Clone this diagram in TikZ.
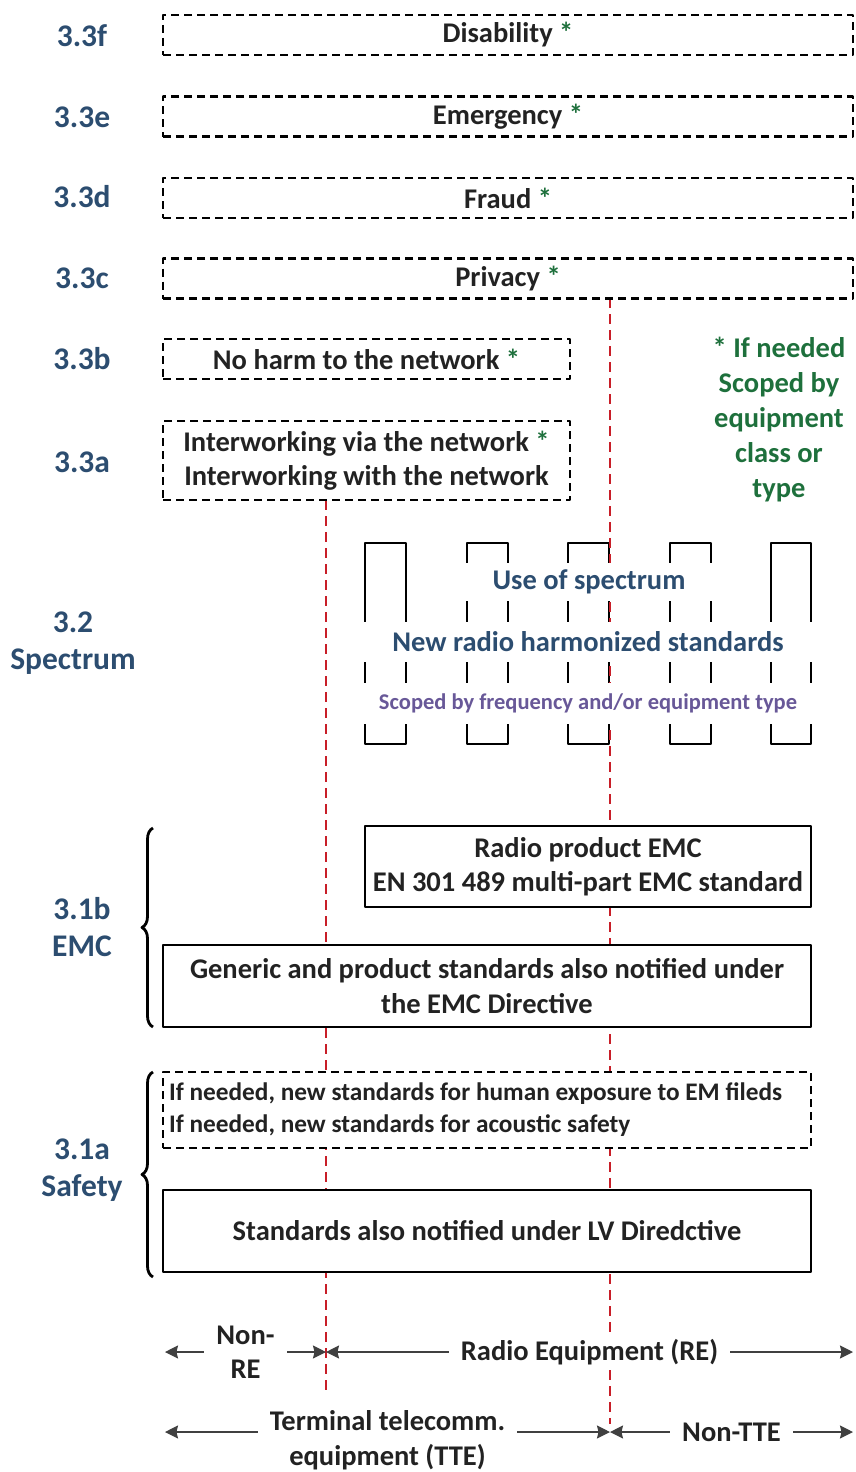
\documentclass[tikz,border=0pt]{standalone}
\usepackage{fontspec}
\setmainfont{Carlito}
\usetikzlibrary{arrows.meta,decorations.pathreplacing}
\definecolor{secblue}{RGB}{44,77,112}
\definecolor{notegreen}{RGB}{30,112,60}
\definecolor{scopepurple}{RGB}{104,88,152}
\definecolor{splitred}{RGB}{200,30,40}
\definecolor{arrowgray}{RGB}{64,64,64}
\definecolor{inktext}{RGB}{34,34,34}
\newcommand{\needed}{\textcolor{notegreen}{*}}
\tikzset{
	sec/.style={text=secblue, align=center, font=\fontsize{31.5}{37}\selectfont\bfseries},
	reqbox/.style={draw, line width=2.2pt, fill=white, inner sep=0pt, align=center, text=inktext},
	optbox/.style={reqbox, dash pattern=on 8pt off 5pt},
	band/.style={fill=white, inner sep=0pt, text=secblue},
	split/.style={splitred, line width=2.2pt, dash pattern=on 10pt off 6pt},
	scope/.style={arrowgray, line width=1.3pt, {Stealth[length=13pt,width=13pt,inset=1.5pt]}-{Stealth[length=13pt,width=13pt,inset=1.5pt]}},
	scopelbl/.style={fill=white, inner xsep=12pt, text=inktext, align=center}
}
\begin{document}
\begin{tikzpicture}[x=1pt, y=-1pt, font=\fontsize{28.5}{34.5}\selectfont\bfseries, line join=round]
				\useasboundingbox (0,0) rectangle (855,1472);
				\path
				(326,500) coordinate (L1)
				(326,1390) coordinate (L2)
				(610,298) coordinate (R1)
				(610,1424) coordinate (R2)
				(165,1352) coordinate (A1)
				(326,1352) coordinate (A2)
				(853,1352) coordinate (A3)
				(165,1432) coordinate (B1)
				(610,1432) coordinate (B2)
				(853,1432) coordinate (B3)
				;
				% section numbers
				\node[sec] (s3f) at (82,36) {3.3f};
				\node[sec] (s3e) at (82,117) {3.3e};
				\node[sec] (s3d) at (82,197) {3.3d};
				\node[sec] (s3c) at (82,278) {3.3c};
				\node[sec] (s3b) at (82,359) {3.3b};
				\node[sec] (s3a) at (82,462) {3.3a};
				\node[sec] (s2) at (73,643) {3.2\\Spectrum};
				\node[sec] (s1b) at (82,927) {3.1b\\EMC};
				\node[sec] (s1a) at (82,1170) {3.1a\\Safety};
				
				% spectrum comb
				\draw[line width=2.2pt] (365,543) rectangle (406,744);
				\draw[line width=2.2pt] (467,543) rectangle (508,744);
				\draw[line width=2.2pt] (568,543) rectangle (609,744);
				\draw[line width=2.2pt] (670,543) rectangle (711,744);
				\draw[line width=2.2pt] (771,543) rectangle (811,744);
				
				% dividing lines
				\draw[split] (L1)--(L2);
				\draw[split] (R1)--(R2);
				
				\node[band, minimum width=249, minimum height=38] (use) at (589,582) {Use of spectrum};
				\node[band, minimum width=454, minimum height=40] (new) at (588,642) {New radio harmonized standards};
				\node[band, minimum width=454, minimum height=41, text=scopepurple, font=\fontsize{22.5}{26}\selectfont\bfseries] (freq) at (588,703) {Scoped by frequency and/or equipment type};
				
				% essential requirements
				\node[optbox, minimum width=690, minimum height=40] (dis) at (508,35) {Disability \needed};
				\node[optbox, minimum width=690, minimum height=40] (emg) at (508,116.5) {Emergency \needed};
				\node[optbox, minimum width=690, minimum height=40] (frd) at (508,198) {Fraud \needed};
				\node[optbox, minimum width=690, minimum height=40] (prv) at (508,278.5) {Privacy \needed};
				\node[optbox, minimum width=407, minimum height=40] (harm) at (366.5,359) {No harm to the network \needed};
				\node[optbox, minimum width=407, minimum height=79] (intw) at (366.5,460.5) {Interworking via the network \needed\\Interworking with the network};
				
				\node[text=notegreen, align=center, font=\fontsize{28.5}{35}\selectfont\bfseries] (note) at (779,420) {* If needed\\Scoped by\\equipment\\class or\\type};
				
				\node[reqbox, minimum width=446, minimum height=81] (remc) at (588,866.5) {Radio product EMC\\EN 301 489 multi-part EMC standard};
				\node[reqbox, minimum width=648, minimum height=82] (gemc) at (487,986) {Generic and product standards also notified under\\the EMC Directive};
				\node[optbox, minimum width=648, minimum height=76] (expo) at (487,1110) {};
				\node[anchor=west, align=left, inner sep=0pt, text=inktext, font=\fontsize{25.3}{32}\selectfont\bfseries] (expotxt) at ([xshift=7pt]expo.west) {If needed, new standards for human exposure to EM fileds\\If needed, new standards for acoustic safety};
				\node[reqbox, minimum width=648, minimum height=82] (lvd) at (487,1231) {Standards also notified under LV Diredctive};
				
				\draw[line width=2.8pt, decorate, decoration={brace, amplitude=11pt}] (153,1027)--(153,828);
				\draw[line width=2.8pt, decorate, decoration={brace, amplitude=11pt}] (153,1277)--(153,1072);
				
				% scope arrows
				\draw[scope] (A1)-- node[scopelbl] (nre) {Non-\\RE} (A2);
				\draw[scope] (A2)-- node[scopelbl] (re) {Radio Equipment (RE)} (A3);
				\draw[scope] (B1)-- node[scopelbl, yshift=-8] (tte) {Terminal telecomm.\\equipment (TTE)} (B2);
				\draw[scope] (B2)-- node[scopelbl] (ntte) {Non-TTE} (B3);
		\end{tikzpicture}
\end{document}
